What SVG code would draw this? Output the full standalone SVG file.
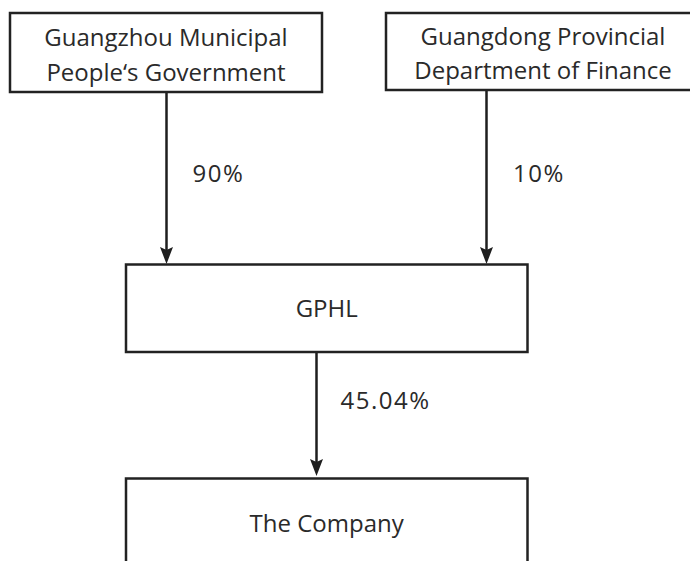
<svg xmlns="http://www.w3.org/2000/svg" width="690" height="561" viewBox="0 0 690 561">
<defs>
<style>
.box{fill:#fff;stroke:#222;stroke-width:2.5}
.t{font-family:"Open Sans","Noto Sans",sans-serif;font-size:24px;fill:#2a2a2a;text-anchor:middle}
.l{font-family:"Open Sans","Noto Sans",sans-serif;font-size:24px;fill:#2a2a2a;letter-spacing:1.5px}
.c{stroke:#1e1e1e;stroke-width:2.5;fill:none}
</style>
<marker id="arr" markerWidth="17" markerHeight="13" refX="7" refY="6.5" orient="auto" markerUnits="userSpaceOnUse" viewBox="0 0 17 13">
<path d="M0,0 L17,6.5 L0,13 L3,6.5 Z" fill="#1e1e1e"/>
</marker>
</defs>
<rect width="690" height="561" fill="#fff"/>
<g id="connectors">
<line class="c" x1="166.5" y1="92" x2="166.5" y2="254" marker-end="url(#arr)"/>
<line class="c" x1="486.5" y1="90" x2="486.5" y2="254" marker-end="url(#arr)"/>
<line class="c" x1="316.5" y1="352" x2="316.5" y2="466" marker-end="url(#arr)"/>
<text class="l" x="192.5" y="182">90%</text>
<text class="l" x="513" y="182">10%</text>
<text class="l" x="340.5" y="409">45.04%</text>
</g>
<g id="guangzhou">
<rect class="box" x="10" y="13" width="312" height="79"/>
<text class="t" x="166" y="46">Guangzhou Municipal</text>
<text class="t" x="166" y="80.5">People‘s Government</text>
</g>
<g id="guangdong">
<rect class="box" x="386" y="13" width="314" height="77"/>
<text class="t" x="543" y="45">Guangdong Provincial</text>
<text class="t" x="543" y="79">Department of Finance</text>
</g>
<g id="gphl">
<rect class="box" x="126" y="264.5" width="401.5" height="87.5"/>
<text class="t" x="326.7" y="317.3">GPHL</text>
</g>
<g id="company">
<rect class="box" x="126" y="478.5" width="401.5" height="100"/>
<text class="t" x="326.7" y="531.5">The Company</text>
</g>
</svg>
